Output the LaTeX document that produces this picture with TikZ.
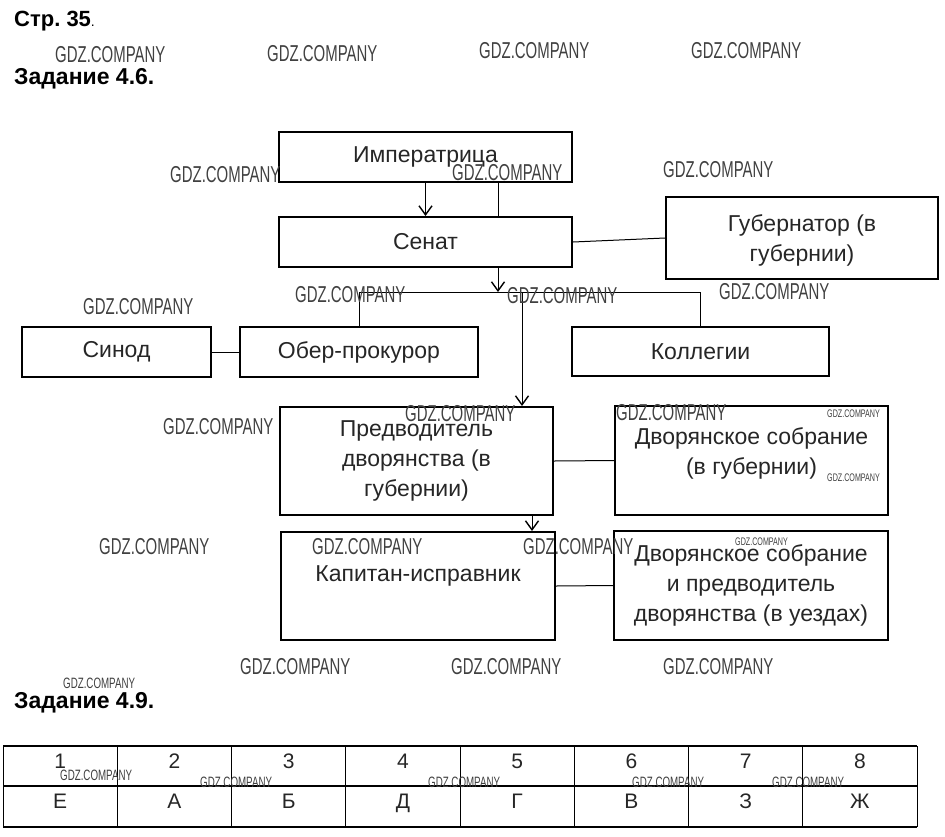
\documentclass[tikz,border=0pt]{standalone}
\usepackage{fontspec}
\setmainfont{Liberation Sans}
\newfontfamily\wmfont[FakeStretch=0.65]{Liberation Sans}
\usetikzlibrary{arrows.meta}
\frenchspacing

\tikzset{
  box/.style={rectangle,draw,line width=2pt,inner sep=0pt,align=center,text=black!85,font=\fontsize{23}{30}\selectfont},
  txt/.style={inner sep=0pt,align=center,text=black!85,font=\fontsize{23}{30}\selectfont},
  link/.style={line width=1pt},
  arr/.style={line width=1pt,-{Straight Barb[length=9pt,width=13pt,line width=1.4pt]}},
  cell/.style={inner sep=0pt,text=black!85,font=\fontsize{21}{21}\selectfont},
  wm/.style={anchor=west,inner sep=0pt,text=black!75,font=\wmfont\fontsize{23}{23}\selectfont},
  wmsmall/.style={anchor=west,inner sep=0pt,text=black!75,font=\wmfont\fontsize{11}{11}\selectfont},
  wmmid/.style={anchor=west,inner sep=0pt,text=black!75,font=\wmfont\fontsize{15}{15}\selectfont}
}

\begin{document}
\begin{tikzpicture}[x=1pt,y=-1pt]
        \useasboundingbox (0,0) rectangle (945,836);
        %\draw [very thin, green]  (0,0) grid[step=50] (945,836);
        \node at (14,26) [anchor=base west,inner sep=0pt,font=\fontsize{22}{22}\selectfont] (page) {\bfseries Стр. 35\mdseries\fontsize{14}{14}\selectfont.};
        \node at (14,84) [anchor=base west,inner sep=0pt,font=\fontsize{23}{23}\selectfont\bfseries] (task1) {Задание 4.6.};
        \node at (14,708) [anchor=base west,inner sep=0pt,font=\fontsize{23}{23}\selectfont\bfseries] (task2) {Задание 4.9.};

        \node at (425.5,157) [box,minimum width=293,minimum height=50] (imp) {Императрица};
        \node at (425.5,242) [box,minimum width=293,minimum height=50] (sen) {Сенат};
        \node at (802,238) [box,minimum width=272,minimum height=82,text depth=0pt] (gub) {Губернатор (в\\губернии)};
        \node at (116.5,352) [box,minimum width=189,minimum height=50] (sin) {Синод};
        \node at (359,352) [box,minimum width=238,minimum height=50] (obr) {Обер-прокурор};
        \node at (700.5,351.5) [box,minimum width=257,minimum height=49] (kol) {Коллегии};
        \node at (416.5,461) [box,minimum width=273,minimum height=108] (pre) {Предводитель\\дворянства (в\\губернии)};
        \node at (751.5,460.5) [box,minimum width=273,minimum height=109] (dv1) {};
        \node at (751.5,453) [txt] (dv1t) {Дворянское собрание\\(в губернии)};
        \node at (418,586) [box,minimum width=274,minimum height=108] (kap) {};
        \node at (418,576) [txt] (kapt) {Капитан-исправник};
        \node at (751,585.5) [box,minimum width=274,minimum height=109] (dv2) {Дворянское собрание\\и предводитель\\дворянства (в уездах)};

        \coordinate (hub) at (498,292);
        \coordinate (drop) at (522,292);
        \coordinate (tap) at (532,523);

        \draw [arr] (imp.south) -- (sen.north);
        \draw [link] (imp.south -| hub) -- (sen.north -| hub);
        \draw [link] (sen.east) -- (gub.west);
        \draw [arr] (sen.south -| hub) -- (hub);
        \draw [link] (obr.north) -- (obr.north |- hub) -- (kol.north |- hub) -- (kol.north);
        \draw [link] (sin.east) -- (obr.west);
        \draw [arr] (drop) -- (drop |- pre.north);
        \draw [link] (pre.east) -- (dv1.west);
        \draw [arr] (tap |- pre.south) -- (tap |- kap.north);
        \draw [link] (kap.east) -- (dv2.west);

        % table
        \draw [line width=1.5pt] (3,746) -- (917,746);
        \draw [line width=1.5pt] (3,786) -- (917,786);
        \draw [line width=1.5pt] (3,827) -- (917,827);
        \foreach \i in {0,...,8}
            \draw [line width=0.8pt] (3+114.25*\i,746) -- (3+114.25*\i,827);
        \foreach \l [count=\i] in {Е,А,Б,Д,Г,В,З,Ж} {
            \node at (3+114.25*\i-57.1,761) [cell] (n\i) {\i};
            \node at (3+114.25*\i-57.1,801) [cell,text depth=0pt] (l\i) {\l};
        }

        % watermarks
        \foreach \x/\y [count=\k] in {55/55,267/54,479/51,691/51,170/175,452/173,663/170,83/307,295/295,507/296,719/292,163/427,405/414,616/413,99/547,312/547,523/547,240/667,451/667,663/667}
            \node at (\x,\y) [wm] (w\k) {GDZ.COMPANY};
        \foreach \x/\y [count=\k] in {827/414,827/478,735/542}
            \node at (\x,\y) [wmsmall] (ws\k) {GDZ.COMPANY};
        \foreach \x/\y [count=\k] in {63/683,60/775,200/782,428/782,632/782,772/782}
            \node at (\x,\y) [wmmid] (wt\k) {GDZ.COMPANY};
    \end{tikzpicture}
\end{document}
